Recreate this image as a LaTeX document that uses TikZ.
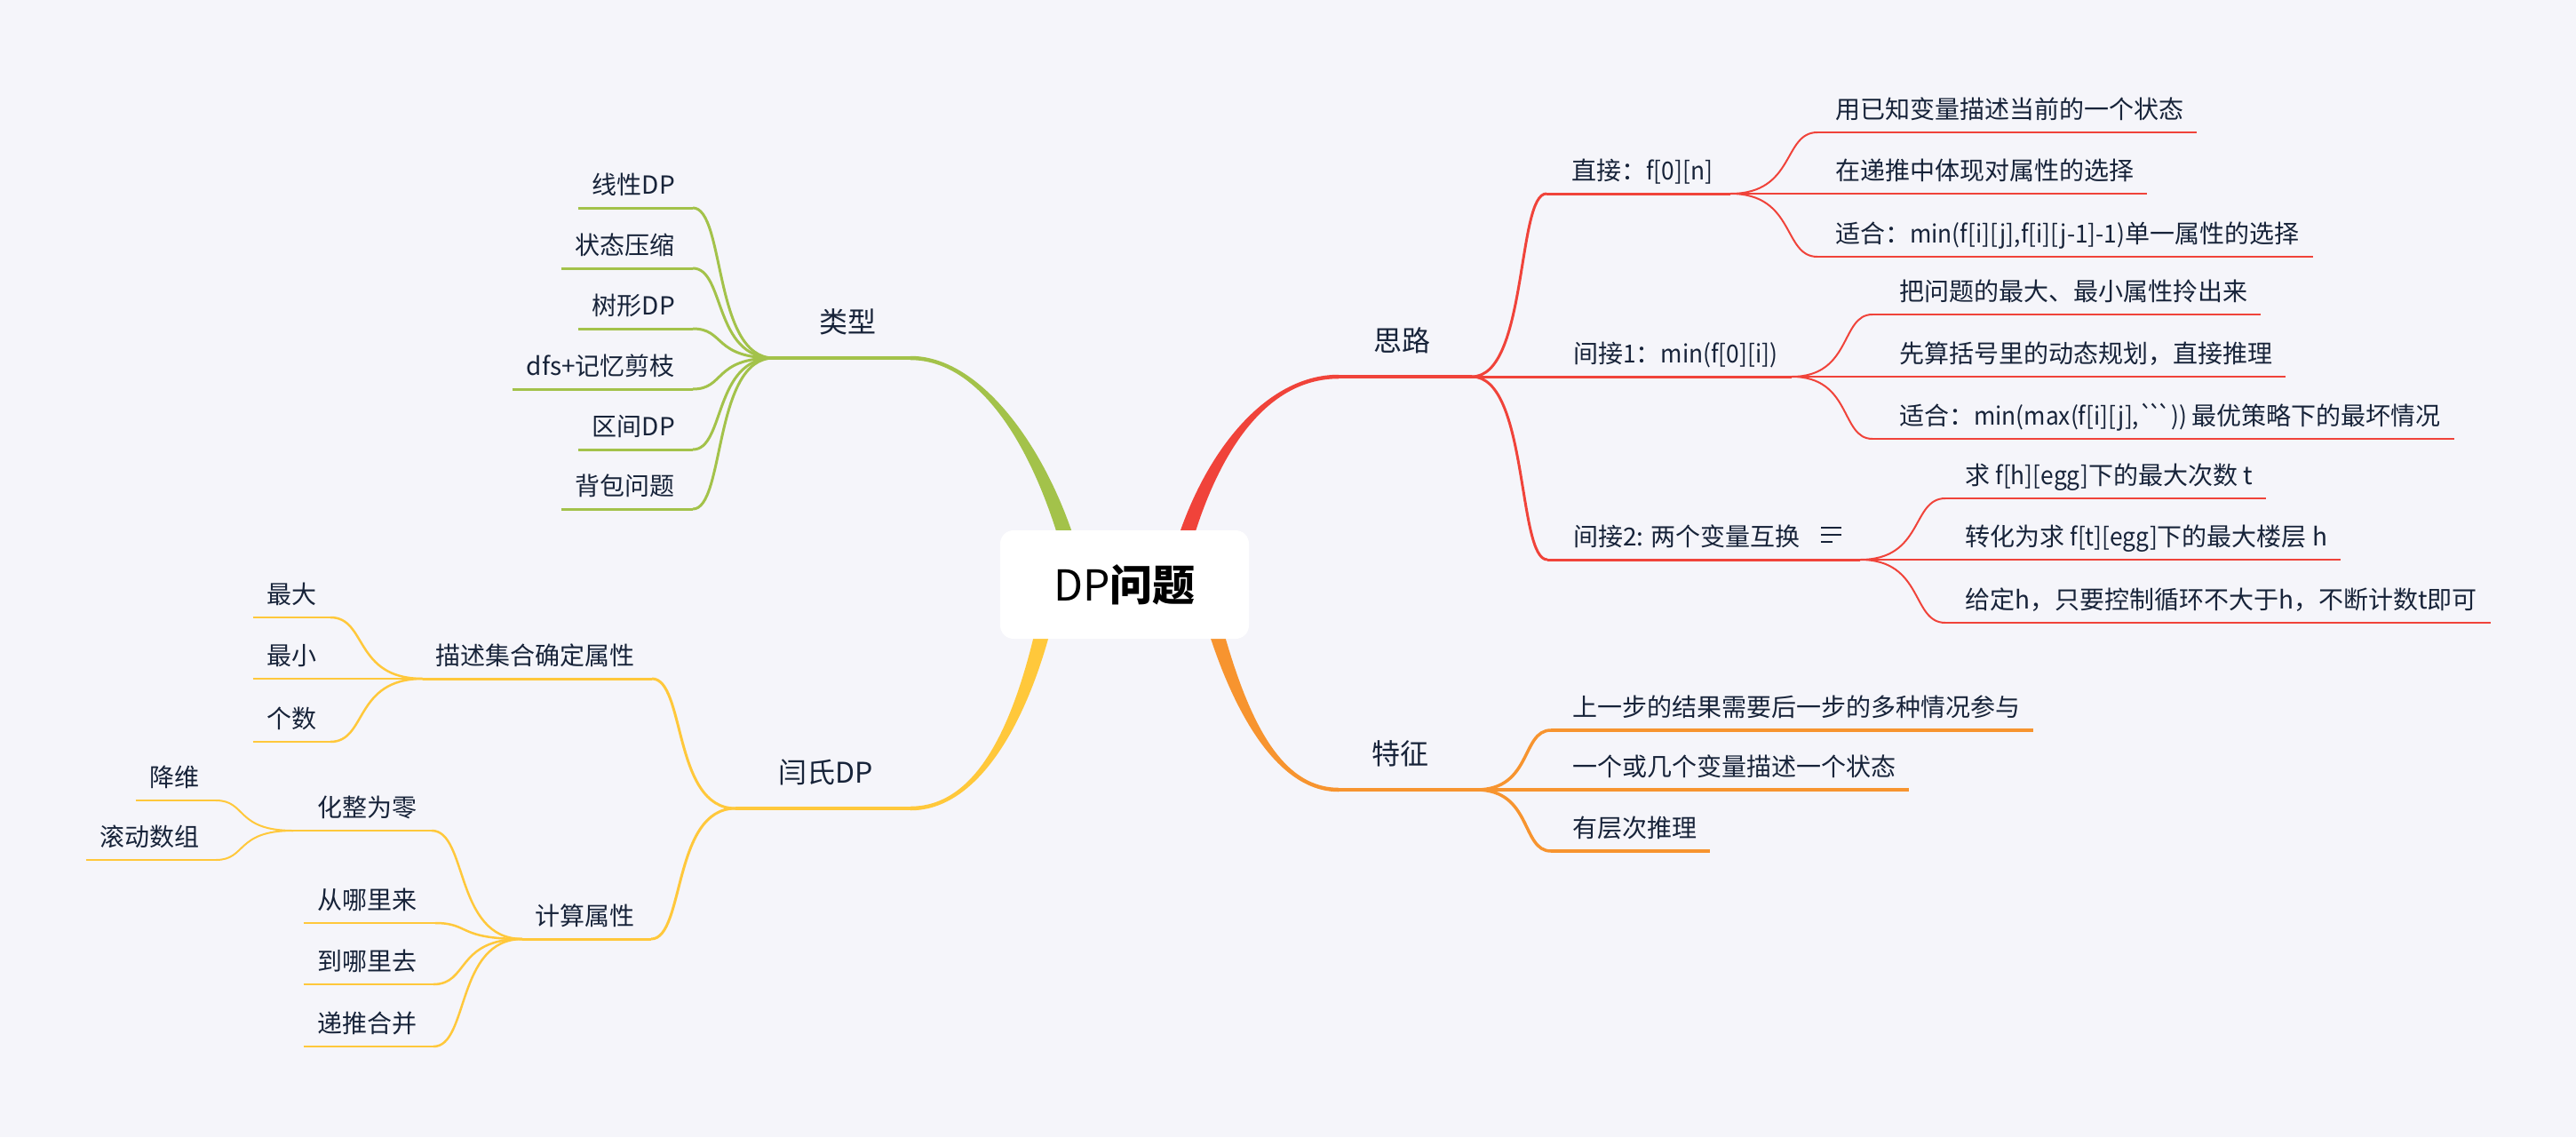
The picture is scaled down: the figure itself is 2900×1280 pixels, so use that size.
\documentclass[tikz,border=0pt]{standalone}
\usepackage{fontspec}
\newfontfamily\cjk{Noto Sans CJK SC}
\newfontfamily\latn{Noto Sans CJK SC}[FakeStretch=0.94]
\usetikzlibrary{calc}
\definecolor{bg}{HTML}{F5F5FA}
\definecolor{txt}{HTML}{172339}
\definecolor{cr}{HTML}{F0433A}
\definecolor{co}{HTML}{F7942F}
\definecolor{cy}{HTML}{FFC83B}
\definecolor{cg}{HTML}{A3C24A}
\def\hA{9}\def\hB{2.25}
\newcommand\bt{`\kern-6pt}
\newcommand\conn[4]{\draw[#1,line width=#2] (#3) .. controls ($(#3)!0.75!(#3-|#4)$) and ($(#4)!0.4!(#4-|#3)$) .. (#4);}
\newcommand\mainbr[7]{%
 \fill[#1] ($(#2)+({(#6)*\hA},0)$) .. controls ($(#3)+({(#6)*\hA},0)$) and ($(#4)+(0,{(#7)*\hB})$) .. ($(#5)+(0,{(#7)*\hB})$)
   -- ($(#5)+(0,{-(#7)*\hB})$) .. controls ($(#4)+(0,{-(#7)*\hB})$) and ($(#3)+({-(#6)*\hA},0)$) .. ($(#2)+({-(#6)*\hA},0)$) -- cycle;}
% right-side leaf: color, width, name, text, text-left x, line y, near x, branch
\newcommand\Rnode[8]{%
 \node[lab, anchor=base west] (#3) at (#5,#6-15.5) {#4};
 \coordinate (#3L) at (#7,#6);
 \coordinate (#3R) at ($(#3.base east)+(15,15.5)$);
 \draw[#1,line width=#2] (#3L) -- (#3R);
 \conn{#1}{#2}{#8}{#3L}}
% left-side leaf: color, width, name, text, text-right x, line y, near x, branch
\newcommand\Lnode[8]{%
 \node[lab, anchor=base east] (#3) at (#5,#6-15.5) {#4};
 \coordinate (#3R) at (#7,#6);
 \coordinate (#3L) at ($(#3.base west)+(-16,15.5)$);
 \draw[#1,line width=#2] (#3L) -- (#3R);
 \conn{#1}{#2}{#8}{#3R}}
\begin{document}
\begin{tikzpicture}[x=1pt,y=-1pt,
  lab/.style={font=\cjk\fontsize{28}{34}\selectfont, text=txt, inner sep=0pt},
  labA/.style={font=\cjk\fontsize{32}{38}\selectfont, text=txt, inner sep=0pt},
  rootbox/.style={fill=white, rounded corners=15pt, minimum width=280pt, minimum height=122pt,
    inner sep=0pt, font=\cjk\fontsize{48}{58}\selectfont, text=black}]
\fill[bg] (0,0) rectangle (2900,1280);
\useasboundingbox (0,0) rectangle (2900,1280);

% main branches
\coordinate (gP0) at (1210,640); \coordinate (gP1) at (1180,520); \coordinate (gP2) at (1110,403); \coordinate (gE) at (1025,403);
\coordinate (rP0) at (1325,640); \coordinate (rP1) at (1355,520); \coordinate (rP2) at (1420,424); \coordinate (rE) at (1507,424);
\coordinate (oP0) at (1355,660); \coordinate (oP1) at (1385,780); \coordinate (oP2) at (1430,889); \coordinate (oE) at (1507,889);
\coordinate (yP0) at (1185,660); \coordinate (yP1) at (1160,790); \coordinate (yP2) at (1110,910); \coordinate (yE) at (1025,910);
\mainbr{cg}{gP0}{gP1}{gP2}{gE}{-1}{1}
\mainbr{cr}{rP0}{rP1}{rP2}{rE}{1}{1}
\mainbr{co}{oP0}{oP1}{oP2}{oE}{1}{-1}
\mainbr{cy}{yP0}{yP1}{yP2}{yE}{-1}{-1}

\node[rootbox] (root) at (1266,658) {DP{\bfseries 问题}};

% level 1
\coordinate (gB) at (871,403);
\draw[cg,line width=4.5] (gB) -- (gE);
\node[labA,anchor=base] (lx) at (954,374) {类型};
\coordinate (sB) at (1657,424);
\draw[cr,line width=4.5] (rE) -- (sB);
\node[labA,anchor=base] (sl) at (1578,395) {思路};
\coordinate (tB) at (1662,889);
\draw[co,line width=4.5] (oE) -- (tB);
\node[labA,anchor=base] (tz) at (1576,860) {特征};
\coordinate (yB) at (828,910);
\draw[cy,line width=4.5] (yB) -- (yE);
\node[labA,anchor=base] (ys) at (930,881) {闫氏DP};

% 思路 children
\node[lab,anchor=base west] (zj) at (1769,202.5) {直接：{\latn f[0][n]}};
\coordinate (zjL) at (1741,218); \coordinate (zjB) at (1948,218);
\draw[cr,line width=3] (zjL) -- (zjB);
\conn{cr}{3}{sB}{zjL}
\node[lab,anchor=base west] (jj1) at (1771,408.5) {间接{\latn 1}：{\latn min(f[0][i])}};
\coordinate (jj1B) at (2017,424);
\draw[cr,line width=3] (sB) -- (jj1B);
\node[lab,anchor=base west] (jj2) at (1771,614.5) {间接2: 两个变量互换};
\coordinate (jj2L) at (1742,630); \coordinate (jj2B) at (2094,630);
\draw[cr,line width=3] (jj2L) -- (jj2B);
\conn{cr}{3}{sB}{jj2L}
\draw[txt,line width=2.5] (2050,594) -- (2073,594) (2050,602) -- (2073,602) (2050,610) -- (2063,610);

\Rnode{cr}{2}{r1}{用已知变量描述当前的一个状态}{2066}{149}{2046}{zjB}
\Rnode{cr}{2}{r2}{在递推中体现对属性的选择}{2066}{218}{1948}{zjB}
\Rnode{cr}{2}{r3}{适合：{\latn min(f[i][j],f[i][j-1]-1)}单一属性的选择}{2066}{289}{2046}{zjB}
\Rnode{cr}{2}{r4}{把问题的最大、最小属性拎出来}{2138}{354}{2108}{jj1B}
\Rnode{cr}{2}{r5}{先算括号里的动态规划，直接推理}{2138}{424}{2017}{jj1B}
\Rnode{cr}{2}{r6}{适合：{\latn min(max(f[i][j],\bt\bt`)) }最优策略下的最坏情况}{2138}{494}{2108}{jj1B}
\Rnode{cr}{2}{r7}{求 {\latn f[h][egg]}下的最大次数 t}{2212}{561}{2190}{jj2B}
\Rnode{cr}{2}{r8}{转化为求 {\latn f[t][egg]}下的最大楼层 h}{2212}{630}{2094}{jj2B}
\Rnode{cr}{2}{r9}{给定h，只要控制循环不大于h，不断计数t即可}{2212}{701}{2190}{jj2B}

% 特征 children
\Rnode{co}{3.5}{f1}{上一步的结果需要后一步的多种情况参与}{1770}{822}{1746}{tB}
\Rnode{co}{3.5}{f2}{一个或几个变量描述一个状态}{1770}{889}{1662}{tB}
\Rnode{co}{3.5}{f3}{有层次推理}{1770}{958}{1746}{tB}

% 类型 children
\Lnode{cg}{3}{g1}{线性DP}{760}{234}{780}{gB}
\Lnode{cg}{3}{g2}{状态压缩}{760}{302}{780}{gB}
\Lnode{cg}{3}{g3}{树形DP}{760}{370}{780}{gB}
\Lnode{cg}{3}{g4}{dfs+记忆剪枝}{760}{438}{780}{gB}
\Lnode{cg}{3}{g5}{区间DP}{760}{506}{780}{gB}
\Lnode{cg}{3}{g6}{背包问题}{760}{573}{780}{gB}

% 闫氏DP children
\node[lab,anchor=base east] (ms) at (715,748.5) {描述集合确定属性};
\coordinate (msB) at (476,764); \coordinate (msR) at (734,764);
\draw[cy,line width=3] (msB) -- (msR);
\conn{cy}{3}{yB}{msR}
\Lnode{cy}{2.5}{y1}{最大}{357}{695}{372}{msB}
\Lnode{cy}{2.5}{y2}{最小}{357}{764}{476}{msB}
\Lnode{cy}{2.5}{y3}{个数}{357}{835}{372}{msB}

\node[lab,anchor=base east] (js) at (715,1041.5) {计算属性};
\coordinate (jsB) at (588,1057); \coordinate (jsR) at (733,1057);
\draw[cy,line width=3] (jsB) -- (jsR);
\conn{cy}{3}{yB}{jsR}
\node[lab,anchor=base east] (hz) at (470,919.5) {化整为零};
\coordinate (hzB) at (330,935); \coordinate (hzR) at (486,935);
\draw[cy,line width=2.5] (hzB) -- (hzR);
\conn{cy}{2.5}{jsB}{hzR}
\Lnode{cy}{2}{y4}{降维}{225}{901}{243}{hzB}
\Lnode{cy}{2}{y5}{滚动数组}{225}{968}{243}{hzB}
\Lnode{cy}{2.5}{y6}{从哪里来}{470}{1039}{490}{jsB}
\Lnode{cy}{2.5}{y7}{到哪里去}{470}{1108}{488}{jsB}
\Lnode{cy}{2.5}{y8}{递推合并}{470}{1178}{488}{jsB}
\end{tikzpicture}
\end{document}
